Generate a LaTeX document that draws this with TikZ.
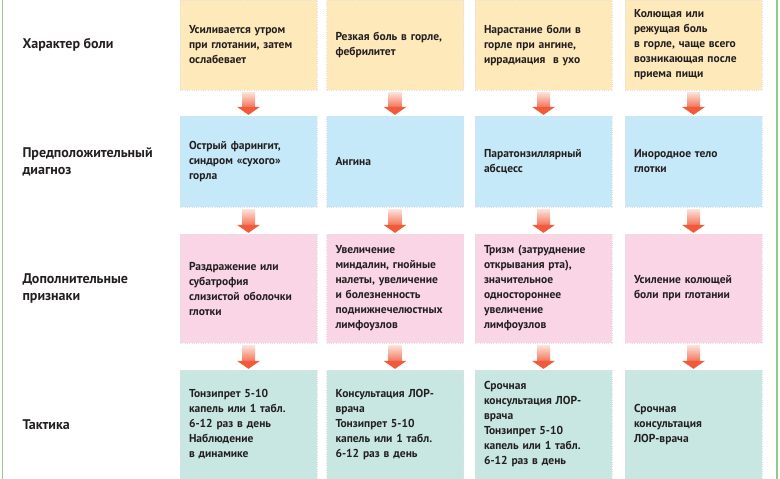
\documentclass[tikz,border=0pt]{standalone}
\usepackage{fontspec}
\setmainfont{PT Sans}
\usepackage{tikz}
\usetikzlibrary{calc}
\definecolor{symcol}{HTML}{FDE9BA}
\definecolor{diagcol}{HTML}{C5E9F8}
\definecolor{signcol}{HTML}{F9D5E5}
\definecolor{tactcol}{HTML}{C8E7E3}
\definecolor{arrowred}{HTML}{F15A3A}
\definecolor{arrowpale}{HTML}{FDE3DA}
\definecolor{textcol}{HTML}{231F20}
\definecolor{framegreen}{HTML}{8DCB93}
\begin{document}
\begin{tikzpicture}[x=1pt,y=-1pt]
		\tikzstyle{cell} = [rectangle, minimum width=137pt, inner xsep=9pt, text width=119pt, align=left, text=textcol, font=\bfseries\fontsize{11.5}{15}\selectfont, draw=black!12, dotted, line width=0.3pt]
		\tikzstyle{symptom} = [cell, fill=symcol, minimum height=90pt]
		\tikzstyle{diagnosis} = [cell, fill=diagcol, minimum height=91pt]
		\tikzstyle{signs} = [cell, fill=signcol, minimum height=109pt]
		\tikzstyle{tactics} = [cell, fill=tactcol, minimum height=109pt]
		\tikzstyle{rowlabel} = [anchor=west, align=left, text=textcol, font=\bfseries\fontsize{14}{17}\selectfont]
		\tikzstyle{shaft} = [top color=arrowpale, bottom color=arrowred!85]
		\useasboundingbox (0,0) rectangle (780,479);
		\draw[framegreen, line width=1.5pt] (2.5,0) -- (2.5,479);
		\draw[framegreen, line width=1.5pt] (777,0) -- (777,479);
		% row labels
		\node (lab1) [rowlabel] at (19,45) {Характер боли};
		\node (lab2) [rowlabel] at (19,161.5) {Предположительный\\диагноз};
		\node (lab3) [rowlabel] at (19,288.5) {Дополнительные\\признаки};
		\node (lab4) [rowlabel] at (19,424.5) {Тактика};
		% character of pain
		\node (sym1) [symptom] at (248.5,45) {Усиливается утром\\при глотании, затем\\ослабевает};
		\node (sym2) [symptom] at (395,45) {Резкая боль в горле,\\фебрилитет};
		\node (sym3) [symptom] at (543.5,45) {Нарастание боли в\\горле при ангине,\\иррадиация \ в ухо};
		\node (sym4) [symptom] at (693.5,45) {Колющая или\\режущая боль\\в горле, чаще всего\\возникающая после\\приема пищи};
		% diagnosis
		\node (diag1) [diagnosis] at (248.5,161.5) {Острый фарингит,\\синдром «сухого»\\горла};
		\node (diag2) [diagnosis] at (395,161.5) {Ангина};
		\node (diag3) [diagnosis] at (543.5,161.5) {Паратонзиллярный\\абсцесс};
		\node (diag4) [diagnosis] at (693.5,161.5) {Инородное тело\\глотки};
		% additional signs
		\node (sign1) [signs] at (248.5,288.5) {Раздражение или\\субатрофия\\слизистой оболочки\\глотки};
		\node (sign2) [signs] at (395,288.5) {Увеличение\\миндалин, гнойные\\налеты, увеличение\\и болезненность\\поднижнечелюстных\\лимфоузлов};
		\node (sign3) [signs] at (543.5,288.5) {Тризм (затруднение\\открывания рта),\\значительное\\одностороннее\\увеличение\\лимфоузлов};
		\node (sign4) [signs] at (693.5,288.5) {Усиление колющей\\боли при глотании};
		% tactics
		\node (tact1) [tactics] at (248.5,424.5) {Тонзипрет 5-10\\капель или 1 табл.\\6-12 раз в день\\Наблюдение\\в динамике};
		\node (tact2) [tactics] at (395,424.5) {Консультация ЛОР-\\врача\\Тонзипрет 5-10\\капель или 1 табл.\\6-12 раз в день};
		\node (tact3) [tactics] at (543.5,424.5) {Срочная\\консультация ЛОР-\\врача\\Тонзипрет 5-10\\капель или 1 табл.\\6-12 раз в день};
		\node (tact4) [tactics] at (693.5,424.5) {Срочная\\консультация\\ЛОР-врача};
		% block arrows
		\foreach \c in {1,...,4}
			\foreach \a/\b in {sym/diag, diag/sign, sign/tact} {
				\shade[shaft] ($(\a\c.south)+(-6.5,2)$) rectangle ($(\b\c.north)+(6.5,-8.5)$);
				\fill[arrowred] ($(\b\c.north)+(-11.5,-9)$) -- ($(\b\c.north)+(11.5,-9)$) -- ($(\b\c.north)+(0,-1)$) -- cycle;
			}
	\end{tikzpicture}
\end{document}
